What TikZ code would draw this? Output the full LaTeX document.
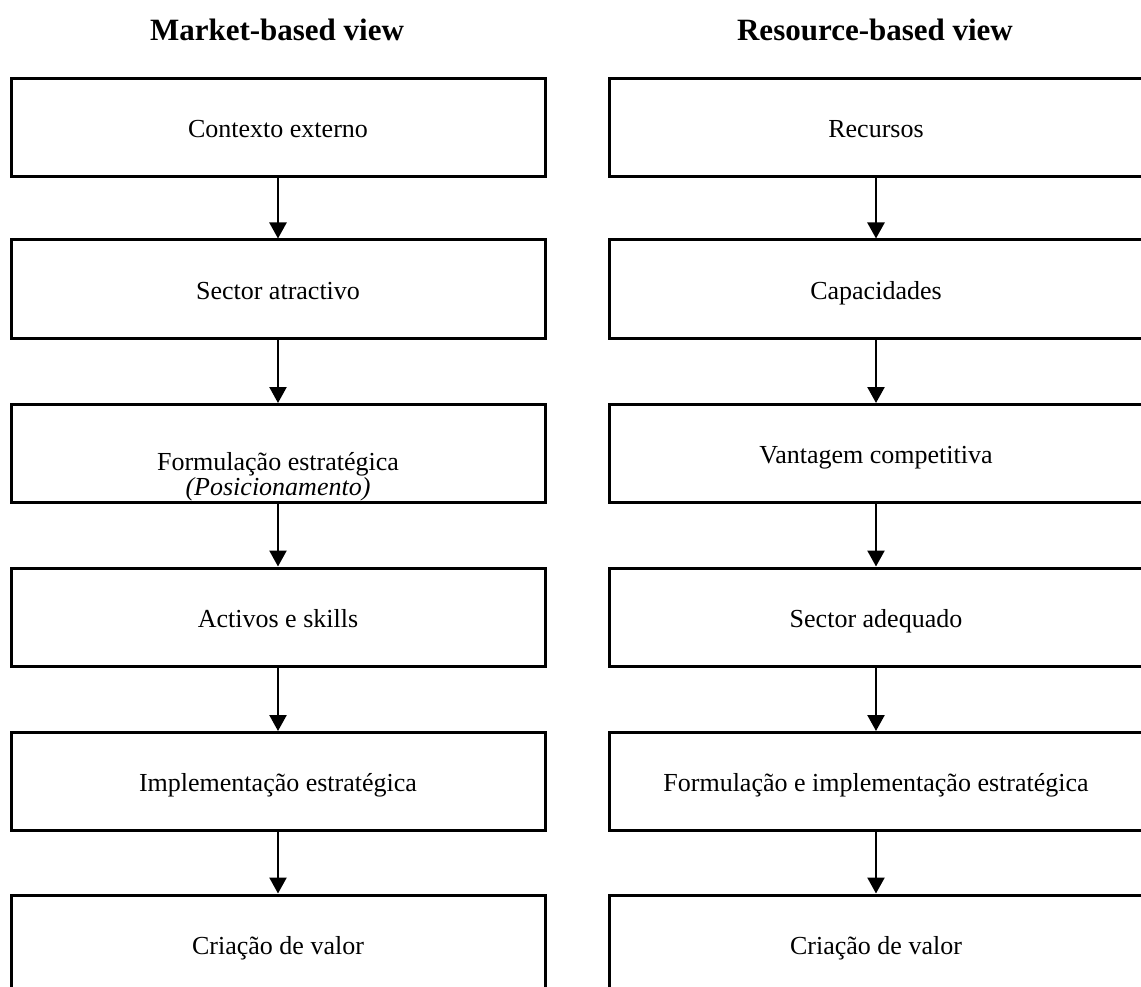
\documentclass[tikz,border=0pt]{standalone}
\usepackage{fontspec}
\setmainfont{Liberation Serif}
\usetikzlibrary{arrows.meta}

\tikzset{
  stagebox/.style={draw=black, line width=3pt, rectangle, minimum height=98pt,
    inner sep=0pt, text height=22pt, text depth=2pt,
    font=\fontsize{26}{30}\selectfont},
  leftbox/.style={stagebox, minimum width=534pt},
  rightbox/.style={stagebox, minimum width=533pt},
  flow/.style={draw=black, line width=2.4pt, -{Triangle[length=16pt,width=17pt]}},
  heading/.style={font=\fontsize{31}{36}\selectfont\bfseries},
  boxtext/.style={font=\fontsize{26}{30}\selectfont, inner sep=0pt,
    text height=22pt, text depth=2pt}
}

\begin{document}
\begin{tikzpicture}[x=1pt, y=-1pt]
  \useasboundingbox (0,0) rectangle (1141,987);
  \clip (0,0) rectangle (1141,987);

  % column headings
  \node[heading] (hl) at (277,30) {Market-based view};
  \node[heading] (hr) at (875,30) {Resource-based view};

  % market-based chain
  \node[leftbox] (l1) at (278,128)   {Contexto externo};
  \node[leftbox] (l2) at (278,289)   {Sector atractivo};
  \node[leftbox] (l3) at (278,453.5) {};
  \node[boxtext] (l3a) at (278,460)  {Formulação estratégica};
  \node[boxtext] (l3b) at (278,485)  {\textit{(Posicionamento)}};
  \node[leftbox] (l4) at (278,617)   {Activos e skills};
  \node[leftbox] (l5) at (278,781.5) {Implementação estratégica};
  \node[leftbox] (l6) at (278,944)   {Criação de valor};

  % resource-based chain
  \node[rightbox] (r1) at (876,128)   {Recursos};
  \node[rightbox] (r2) at (876,289)   {Capacidades};
  \node[rightbox] (r3) at (876,453.5) {Vantagem competitiva};
  \node[rightbox] (r4) at (876,617)   {Sector adequado};
  \node[rightbox] (r5) at (876,781.5) {Formulação e implementação estratégica};
  \node[rightbox] (r6) at (876,944)   {Criação de valor};

  % connectors
  \foreach \a/\b in {l1/l2,l2/l3,l3/l4,l4/l5,l5/l6,r1/r2,r2/r3,r3/r4,r4/r5,r5/r6}
    \draw[flow] (\a.south) -- (\b.north);
\end{tikzpicture}
\end{document}
